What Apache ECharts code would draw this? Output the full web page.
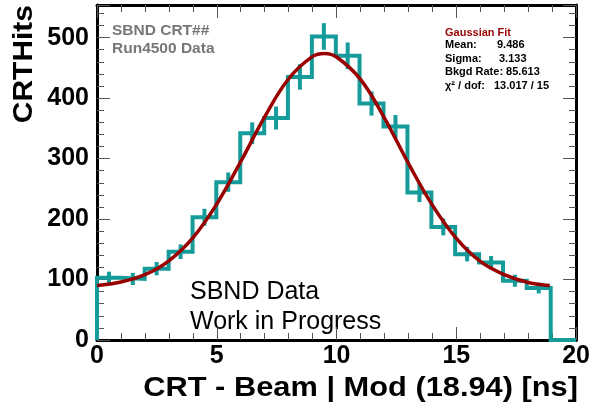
<!DOCTYPE html>
<html><head><meta charset="utf-8">
<script src="https://cdn.jsdelivr.net/npm/echarts@6/dist/echarts.min.js"></script>
<style>html,body{margin:0;padding:0;background:#fff}#c{width:593px;height:408px}</style>
</head><body><div id="c"></div>
<script>
// ---- data ----
const binEdges = [0, 1.00, 1.99, 2.99, 3.99, 4.98, 5.98, 6.98, 7.97, 8.97, 9.97, 10.96, 11.96, 12.96, 13.96, 14.95, 15.95, 16.95, 17.94, 18.94];
const counts   = [103, 101, 118, 146, 203, 261, 342, 367, 435, 502, 470, 391, 353, 244, 187, 142, 128, 98, 86];
const errors   = [10, 10, 11, 12, 14, 16, 18, 19, 21, 22, 22, 20, 19, 16, 14, 12, 11, 10, 9];
const fitX = [0, 1, 2, 3, 4, 5, 6, 7, 8, 9, 9.5, 10, 11, 12, 13, 14, 15, 16, 17, 18, 18.9];
const fitY = [90, 96, 108, 131, 169, 225, 295, 369, 432, 469, 474, 468, 431, 367, 292, 223, 168, 130, 108, 95, 90];
const xTickLabels = [0, 5, 10, 15, 20];
const yTickLabels = [0, 100, 200, 300, 400, 500];
const yTop = 554;
const statLabels = ['Mean:', 'Sigma:', 'Bkgd Rate: 85.613', 'χ² / dof:'];
const statValues = ['9.486', '3.133', '', '13.017 / 15'];

// ---- build histogram outline from the arrays ----
const hist = [[binEdges[0], 0]];
for (let i = 0; i < counts.length; i++) {
  hist.push([binEdges[i], counts[i]], [binEdges[i + 1], counts[i]]);
}
hist.push([binEdges[binEdges.length - 1], 0], [xTickLabels[xTickLabels.length - 1], 0]);
const errData = counts.map((v, i) => [(binEdges[i] + binEdges[i + 1]) / 2, v, errors[i]]);
const fitData = fitX.map((x, i) => [x, fitY[i]]);

const FONT = "'Liberation Sans', Arial, Helvetica, sans-serif";
const TEAL = '#169b9b';
const RED = '#990000';

const xMin = xTickLabels[0], xMax = xTickLabels[xTickLabels.length - 1];
const xInt = xTickLabels[1] - xTickLabels[0];
const yInt = yTickLabels[1] - yTickLabels[0];

function xAx(pos, showLabel) {
  return {
    type: 'value', position: pos, min: xMin, max: xMax, interval: xInt,
    axisLine: { show: true, onZero: false, lineStyle: { color: '#000', width: 3 } },
    axisTick: { show: true, inside: true, length: 13, lineStyle: { color: '#555', width: 1 } },
    minorTick: { show: true, splitNumber: 5, length: 7, lineStyle: { color: '#555', width: 1 } },
    splitLine: { show: false },
    axisLabel: { show: showLabel, margin: 4, fontFamily: FONT, fontWeight: 'bold', fontSize: 25, color: '#000' }
  };
}
function yAx(pos, showLabel) {
  return {
    type: 'value', position: pos, min: 0, max: yTop, interval: yInt,
    axisLine: { show: true, onZero: false, lineStyle: { color: '#000', width: 3 } },
    axisTick: { show: true, inside: true, length: 13, lineStyle: { color: '#555', width: 1 } },
    minorTick: { show: true, splitNumber: 5, length: 7, lineStyle: { color: '#555', width: 1 } },
    splitLine: { show: false },
    axisLabel: { show: showLabel, showMaxLabel: false, margin: 8, fontFamily: FONT, fontWeight: 'bold', fontSize: 25, color: '#000',
      formatter: v => (yTickLabels.indexOf(v) >= 0 ? String(v) : '') }
  };
}

const graphics = [
  { type: 'text', x: 112, y: 31, style: { text: 'SBND CRT##', font: "bold 15.5px " + FONT, fill: '#777', verticalAlign: 'middle' } },
  { type: 'text', x: 112, y: 49, style: { text: 'Run4500 Data', font: "bold 15.5px " + FONT, fill: '#777', verticalAlign: 'middle' } },
  { type: 'text', x: 445, y: 32.5, style: { text: 'Gaussian Fit', font: "bold 11px " + FONT, fill: RED, verticalAlign: 'middle' } },
  { type: 'text', x: 190, y: 292.5, style: { text: 'SBND Data', font: "25px " + FONT, fill: '#000', verticalAlign: 'middle' } },
  { type: 'text', x: 190, y: 322.5, style: { text: 'Work in Progress', font: "25px " + FONT, fill: '#000', verticalAlign: 'middle' } },
  { type: 'text', x: 578, y: 388, scaleX: 1.1, style: { text: 'CRT - Beam | Mod (18.94) [ns]', font: "bold 28px " + FONT, fill: '#000', align: 'right', verticalAlign: 'middle' } },
  { type: 'text', x: 24, y: 5, rotation: Math.PI / 2, scaleX: 1.07, style: { text: 'CRTHits', font: "bold 28px " + FONT, fill: '#000', align: 'right', verticalAlign: 'middle' } }
];
const statY = [45, 58.5, 72, 85.5];
const valX = [497, 499, 0, 494];
statLabels.forEach((t, i) => {
  graphics.push({ type: 'text', x: 445, y: statY[i], style: { text: t, font: "bold 11px " + FONT, fill: '#000', verticalAlign: 'middle' } });
  if (statValues[i]) graphics.push({ type: 'text', x: valX[i], y: statY[i], style: { text: statValues[i], font: "bold 11px " + FONT, fill: '#000', verticalAlign: 'middle' } });
});

const chart = echarts.init(document.getElementById('c'), null, { renderer: 'canvas' });
chart.setOption({
  animation: false,
  backgroundColor: '#fff',
  grid: { left: 97, right: 16, top: 5, bottom: 68, containLabel: false },
  xAxis: [xAx('bottom', true), xAx('top', false)],
  yAxis: [yAx('left', true), yAx('right', false)],
  series: [
    { type: 'line', data: hist, xAxisIndex: 0, yAxisIndex: 0, showSymbol: false, symbol: 'none',
      lineStyle: { color: TEAL, width: 4, join: 'miter' }, z: 2 },
    { type: 'custom', xAxisIndex: 0, yAxisIndex: 0, data: errData, z: 3,
      renderItem: function (params, api) {
        const p1 = api.coord([api.value(0), api.value(1) - api.value(2)]);
        const p2 = api.coord([api.value(0), api.value(1) + api.value(2)]);
        return { type: 'line', shape: { x1: p1[0], y1: p1[1], x2: p2[0], y2: p2[1] },
          style: { stroke: TEAL, lineWidth: 4 } };
      } },
    { type: 'line', data: fitData, xAxisIndex: 0, yAxisIndex: 0, smooth: 0.4, showSymbol: false, symbol: 'none',
      lineStyle: { color: RED, width: 3.5 }, z: 4 }
  ],
  graphic: graphics
});
</script></body></html>
